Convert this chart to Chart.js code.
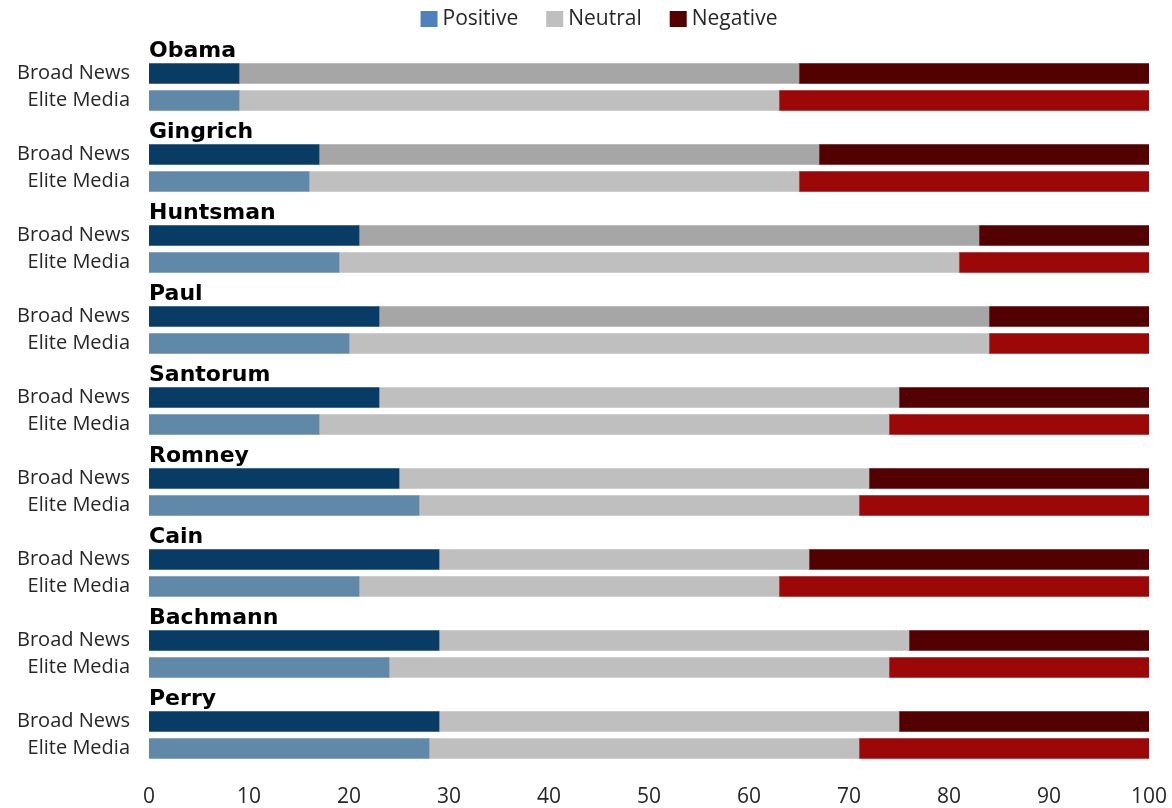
<!DOCTYPE html>
<html>
<head>
<meta charset="utf-8">
<script src="https://cdn.jsdelivr.net/npm/chart.js@4"></script>
<style>
html,body{margin:0;padding:0;background:#fff;}
#wrap{width:1172px;height:808px;position:relative;}
canvas{display:block;}
</style>
</head>
<body>
<div id="wrap"><canvas id="c"></canvas></div>
<script>
const candidates = ['Obama','Gingrich','Huntsman','Paul','Santorum','Romney','Cain','Bachmann','Perry'];
const sources = ['Broad News','Elite Media'];
const seriesNames = ['Positive','Neutral','Negative'];
const broadPositive = [9,17,21,23,23,25,29,29,29];
const broadNeutral  = [56,50,62,61,52,47,37,47,46];
const broadNegative = [35,33,17,16,25,28,34,24,25];
const elitePositive = [9,16,19,20,17,27,21,24,28];
const eliteNeutral  = [54,49,62,64,57,44,42,50,43];
const eliteNegative = [37,35,19,16,26,29,37,26,29];
const xTicks = [0,10,20,30,40,50,60,70,80,90,100];

// styles
const FONT = '"Open Sans"';
const TEXT = '#262626';
const colPosBroad = '#083c64', colPosElite = '#6088a8';
const colNeuBroadDark = '#a6a6a6', colNeu = '#bfbfbf';
const colNegBroad = '#520000', colNegElite = '#9c0808';
const legendColors = ['#4f81bd','#bfbfbf','#520000'];
const darkNeutralCount = 4; // first four candidates use darker neutral for Broad News

const labels = [];
const pos = [], neu = [], neg = [];
const posC = [], neuC = [], negC = [];
candidates.forEach((c, i) => {
  labels.push('');
  pos.push(null); neu.push(null); neg.push(null);
  posC.push(colPosBroad); neuC.push(colNeu); negC.push(colNegBroad);
  labels.push(sources[0]);
  pos.push(broadPositive[i]); neu.push(broadNeutral[i]); neg.push(broadNegative[i]);
  posC.push(colPosBroad); neuC.push(i < darkNeutralCount ? colNeuBroadDark : colNeu); negC.push(colNegBroad);
  labels.push(sources[1]);
  pos.push(elitePositive[i]); neu.push(eliteNeutral[i]); neg.push(eliteNegative[i]);
  posC.push(colPosElite); neuC.push(colNeu); negC.push(colNegElite);
});

const namePlugin = {
  id: 'names',
  afterDatasetsDraw(chart) {
    const ctx = chart.ctx;
    const y = chart.scales.y;
    const left = chart.chartArea.left;
    ctx.save();
    ctx.font = 'bold 22px "DejaVu Sans"';
    ctx.fillStyle = '#000';
    ctx.textAlign = 'left';
    ctx.textBaseline = 'middle';
    candidates.forEach((c, i) => {
      ctx.fillText(c, left, y.getPixelForValue(i * 3) + 5);
    });
    ctx.restore();
  }
};

const legendPlugin = {
  id: 'topLegend',
  afterDraw(chart) {
    const ctx = chart.ctx;
    ctx.save();
    ctx.font = '21px ' + FONT;
    ctx.textBaseline = 'middle';
    ctx.textAlign = 'left';
    const box = 17, gapText = 5, gapItem = 28, cy = 19, centerX = 599;
    const widths = seriesNames.map(n => box + gapText + ctx.measureText(n).width);
    const total = widths.reduce((a, b) => a + b, 0) + gapItem * (seriesNames.length - 1);
    let x = centerX - total / 2;
    seriesNames.forEach((n, i) => {
      ctx.fillStyle = legendColors[i];
      ctx.fillRect(x, cy - 8, box, 16);
      ctx.fillStyle = TEXT;
      ctx.fillText(n, x + box + gapText, cy);
      x += widths[i] + gapItem;
    });
    ctx.restore();
  }
};

new Chart(document.getElementById('c'), {
  type: 'bar',
  data: {
    labels: labels,
    datasets: [
      {label: seriesNames[0], data: pos, backgroundColor: posC},
      {label: seriesNames[1], data: neu, backgroundColor: neuC},
      {label: seriesNames[2], data: neg, backgroundColor: negC}
    ]
  },
  options: {
    indexAxis: 'y',
    responsive: true,
    maintainAspectRatio: false,
    animation: false,
    datasets: {bar: {barThickness: 20, borderWidth: 0}},
    layout: {padding: {left: 0, right: 23, top: 33, bottom: 0}},
    plugins: {
      tooltip: {enabled: false},
      legend: {display: false}
    },
    scales: {
      x: {
        stacked: true, min: 0, max: 100,
        grid: {display: false, drawTicks: false}, border: {display: false},
        afterBuildTicks: (s) => { s.ticks = xTicks.map(v => ({value: v})); },
        afterFit: (s) => { s.height = 46; s.paddingLeft = 0; s.paddingRight = 0; },
        ticks: {font: {family: FONT, size: 21}, color: TEXT, padding: 22, maxRotation: 0}
      },
      y: {
        stacked: true,
        grid: {display: false, drawTicks: false}, border: {display: false},
        afterFit: (s) => { s.width = 149; s.paddingTop = 0; s.paddingBottom = 0; },
        ticks: {font: {family: FONT, size: 20}, color: TEXT, padding: 19, autoSkip: false}
      }
    }
  },
  plugins: [namePlugin, legendPlugin]
});
</script>
</body>
</html>
